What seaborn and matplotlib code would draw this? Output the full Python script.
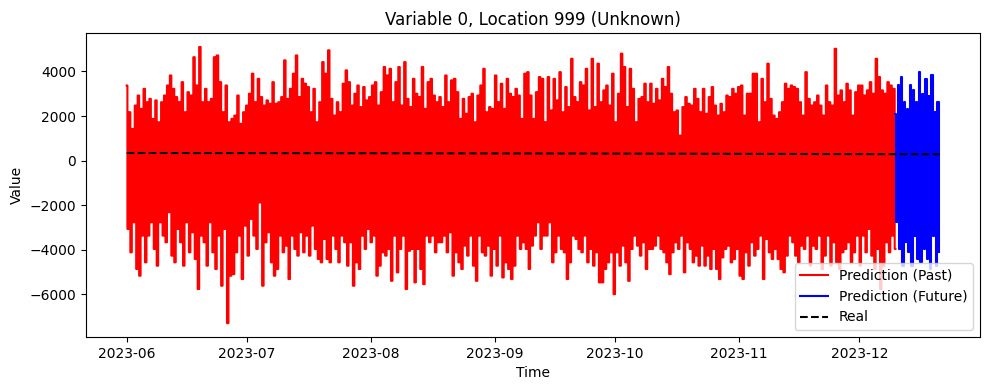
import numpy as np
import pandas as pd
import matplotlib.pyplot as plt
import seaborn as sns

# ── data (spike tops / bottoms, left to right) ──────────────────────────────
past_highs = [
    3370, 2170, 1420, 2470, 2920, 2320, 3220, 2620, 2770, 1870, 2700, 1720,
    2620, 2920, 3370, 3820, 3220, 2850, 2620, 3520, 2170, 3070, 2920, 4640,
    3370, 5100, 2620, 3220, 2620, 2770, 4640, 4720, 3520, 2170, 3370, 1720,
    1870, 2020, 2920, 1650, 2170, 2470, 3000, 3900, 2620, 3670, 2850, 2470,
    2700, 2550, 3520, 2550, 2620, 2850, 4500, 2770, 3220, 3900, 4720, 2850,
    3670, 3450, 3300, 2170, 3220, 1720, 2620, 4420, 3900, 4950, 2770, 2020,
    2620, 2170, 3450, 4050, 3520, 2470, 3000, 3370, 2400, 3300, 2700, 2850,
    3370, 3520, 2470, 3070, 4200, 3820, 4120, 2620, 3520, 4200, 2470, 4420,
    2770, 2400, 3670, 3000, 2850, 4200, 2320, 3520, 3670, 2920, 2620,
    2850, 2400, 3820, 2620, 3600, 3670, 3070, 1870, 2770, 2100, 2850, 3000,
    1720, 2920, 3370, 4120, 2170, 2400, 2320, 3820, 2620, 3450, 2320, 3670,
    3000, 2850, 3220, 2920, 1870, 3900, 3970, 2920, 1870, 3070, 3750, 3670,
    1720, 3750, 2250, 3670, 2700, 3970, 2170, 3300, 2400, 4570, 2850, 2620,
    3520, 3370, 4120, 2250, 4570, 2400, 4350, 2620, 3150, 3370, 2470, 3900,
    1720, 3000, 4800, 4200, 2400, 4120, 3220, 1720, 2770, 2850, 3450, 2620,
    3450, 2550, 3220, 2700, 3670, 3300, 4200, 3000, 2170, 2250, 1120, 2400,
    2850, 2550, 2470, 3220, 2770, 2170, 3220, 2100, 2850, 3300, 2470, 2020,
    2550, 2170, 2920, 2850, 3220, 3000, 3300, 3370, 2020, 3000, 3000, 3900,
    3900, 1720, 3670, 2620, 4350, 2770, 2020, 1870, 2170, 2620, 3450, 3220,
    3370, 3300, 3220, 2620, 2020, 3970, 2770, 2470, 2620, 2920, 2470, 2020,
    3370, 2620, 2470, 5020, 2920, 3150, 2620, 3450, 3150, 2020, 3070, 3370,
    3370, 2920, 3150, 3520, 3000, 4570, 3750, 3150, 3000, 3520, 3370, 3220,
]
past_lows = [
    -3070, -4120, -2770, -4870, -5170, -3370, -4570, -3370, -2770, -3970, -4720, -2770,
    -3370, -3670, -2320, -4270, -4570, -3070, -3670, -4720, -2770, -4120, -3220, -4420,
    -5770, -3370, -3670, -4720, -2770, -4120, -4870, -3370, -5620, -3070, -7300, -5170,
    -5100, -4120, -3370, -5320, -2920, -4270, -2620, -3370, -3970, -1880, -5620, -3670,
    -3220, -4570, -5170, -4870, -3370, -4120, -3820, -5320, -3370, -3970, -4270, -3220,
    -4120, -3370, -4270, -2920, -3970, -4420, -4570, -3520, -4420, -4570, -3370, -3970,
    -4570, -3370, -3670, -4720, -3670, -5620, -4570, -4870, -3370, -3970, -3070, -3670,
    -3370, -5170, -4720, -4120, -4270, -3970, -5400, -3370, -5020, -3970, -3370, -5770,
    -4050, -3970, -5470, -3970, -4870, -5550, -3370, -3670, -3370, -4120, -3670,
    -3670, -3370, -4120, -3220, -5170, -4120, -4570, -4870, -3820, -4270, -3370, -4720,
    -5400, -3370, -4120, -4270, -3820, -5170, -3970, -4720, -3370, -5250, -4570, -4870,
    -5320, -4720, -3370, -3970, -3670, -3970, -4870, -3820, -3370, -2770, -3970, -3370,
    -3370, -2770, -4570, -4120, -3370, -3970, -4120, -5320, -4570, -3370, -3520, -3970,
    -4120, -3370, -4570, -3970, -4720, -4120, -5470, -5470, -4870, -4570, -4120, -6000,
    -4120, -4720, -3820, -4570, -5400, -3970, -3370, -3820, -4270, -3670, -4870, -3970,
    -3970, -3820, -3370, -3970, -4120, -4570, -5100, -4120, -3670, -3970, -3370, -5020,
    -3670, -3970, -4570, -4270, -4720, -3820, -4720, -4270, -4870, -3970, -4870, -5320,
    -4350, -3970, -3820, -4570, -4420, -3970, -5170, -5320, -4120, -4720, -3670, -4270,
    -3970, -3370, -5320, -3520, -4120, -4420, -3970, -4420, -4870, -5020, -4270, -3370,
    -3670, -4270, -4570, -3820, -3970, -3370, -4720, -3820, -3970, -3370, -4870, -4270,
    -3370, -4720, -3670, -4570, -4870, -4120, -3970, -3670, -4570, -4120, -3370, -4720,
    -3370, -4120, -3070, -4270, -4870, -3970, -5770, -4720, -3670, -4120, -3370, -3970,
]
future_highs = [2100, 3370, 3750, 2620, 2320, 3370, 3150, 2620, 3970, 3000,
                3670, 2920, 3820, 2170, 2620]
future_lows = [-2770, -3970, -4720, -3670, -4120, -4720, -3370, -4420, -4570, -3970,
               -4420, -4870, -3370, -4720, -4120]

real_dates = ["2023-06-01", "2023-07-01", "2023-08-01", "2023-09-01",
              "2023-10-01", "2023-11-01", "2023-12-01", "2023-12-21"]
real_values = [340, 335, 330, 320, 310, 300, 290, 285]

PAST_START, PAST_END = "2023-06-01", "2023-12-10"
FUTURE_END = "2023-12-21"


def zigzag(highs, lows, start, end):
    vals = np.column_stack([highs, lows]).ravel()
    t = pd.date_range(start, end, periods=len(vals))
    return pd.DataFrame({"Time": t, "Value": vals})


past = zigzag(past_highs, past_lows, PAST_START, PAST_END)
future = zigzag(future_highs, future_lows, PAST_END, FUTURE_END)
real = pd.DataFrame({"Time": pd.to_datetime(real_dates), "Value": real_values})

fig, ax = plt.subplots(figsize=(9.89, 3.9), dpi=100)
fig.subplots_adjust(left=0.087, right=0.991, top=0.915, bottom=0.136)

sns.lineplot(data=past, x="Time", y="Value", color="red", linewidth=1.5,
             estimator=None, drawstyle="steps-mid", label="Prediction (Past)", ax=ax)
sns.lineplot(data=future, x="Time", y="Value", color="blue", linewidth=1.5,
             estimator=None, drawstyle="steps-mid", label="Prediction (Future)", ax=ax)
sns.lineplot(data=real, x="Time", y="Value", color="black", linestyle="--",
             linewidth=1.5, estimator=None, label="Real", ax=ax)

ax.set_title("Variable 0, Location 999 (Unknown)")
ax.set_xlabel("Time")
ax.set_ylabel("Value")
ax.legend(loc="lower right")
fig.savefig("out.png", dpi=100)
